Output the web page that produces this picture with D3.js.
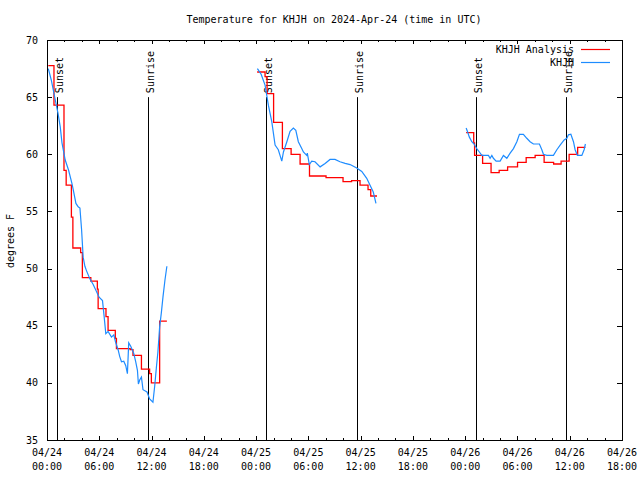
<!DOCTYPE html>
<html><head><meta charset="utf-8">
<script src="https://cdn.jsdelivr.net/npm/d3@7/dist/d3.min.js"></script>
<style>
body{margin:0;background:#fff}
svg text{font-family:"DejaVu Sans Mono","Liberation Mono",monospace;font-size:10px;fill:#000}
</style></head><body>
<svg id="chart" width="640" height="480"></svg>
<script>
// ---- data (hours after 2024-04-24 00:00 UTC, temperature in degrees F) ----
const startUTC = Date.UTC(2024, 3, 24, 0, 0);
const xRangeHours = [0, 66];
const yRange = [35, 70];
const yTickValues = [35, 40, 45, 50, 55, 60, 65, 70];
const sunsetHours = [1.18, 25.17, 49.2];
const sunriseHours = [11.63, 35.63, 59.61];
const titleText = "Temperature for KHJH on 2024-Apr-24 (time in UTC)";
const yLabelText = "degrees F";
const seriesNames = ["KHJH Analysis", "KHJH"];

// analysis (stepped)
const analysisHours1 = [0.15, 0.8, 1.95, 2.2, 2.8, 2.97, 3.86, 4.06, 5.03, 5.78, 5.87, 6.77, 7.01, 7.84, 7.97, 9.55, 9.87, 10.84, 11.78, 11.98, 12.93, 13.76];
const analysisTemps1 = [67.75, 64.3, 58.6, 57.3, 54.5, 51.8, 51.4, 49.2, 48.9, 48.2, 46.5, 45.8, 44.6, 43.9, 43.0, 42.9, 42.4, 41.2, 40.8, 40.0, 45.4, 45.4];
const analysisHours2 = [24.12, 25.03, 25.26, 26.01, 27.02, 28.02, 29.05, 30.13, 32.03, 33.98, 34.96, 35.93, 36.85, 37.16, 37.88];
const analysisTemps2 = [67.2, 66.8, 65.3, 62.8, 60.5, 60.0, 59.15, 58.1, 57.95, 57.6, 57.7, 57.3, 56.9, 56.35, 56.35];
const analysisHours3 = [48.11, 48.98, 49.08, 50.0, 50.97, 51.9, 52.87, 54.01, 55.0, 56.03, 57.06, 58.15, 59.01, 59.93, 60.91, 61.8];
const analysisTemps3 = [61.9, 61.0, 59.9, 59.2, 58.4, 58.6, 58.9, 59.3, 59.7, 59.9, 59.3, 59.15, 59.4, 60.0, 60.6, 60.6];

// observations
const obsHours1 = [0.15, 0.49, 0.95, 1.26, 1.52, 1.72, 2.09, 2.48, 2.86, 3.01, 3.32, 3.58, 3.78, 3.97, 4.15, 4.35, 4.54, 4.92, 5.30, 5.61, 5.98, 6.37, 6.56, 6.75, 7.01, 7.40, 7.67, 7.86, 8.16, 8.35, 8.55, 8.81, 9.04, 9.23, 9.38, 9.61, 9.95, 10.18, 10.38, 10.49, 10.64, 10.84, 11.02, 11.48, 11.78, 12.16, 12.36, 12.55, 12.73, 12.93, 13.12, 13.31, 13.54, 13.76];
const obsTemps1 = [67.5, 66.5, 64.75, 63.6, 62.4, 61.0, 59.5, 58.6, 57.45, 56.9, 55.7, 55.4, 55.3, 53.4, 51.0, 50.2, 49.8, 49.1, 48.6, 48.1, 47.5, 47.2, 45.8, 44.3, 44.5, 44.0, 44.2, 43.6, 42.9, 42.3, 41.85, 41.9, 41.5, 40.8, 43.5, 43.2, 42.6, 41.85, 41.1, 39.9, 40.25, 40.5, 39.4, 39.2, 38.6, 38.3, 39.7, 41.3, 42.7, 44.9, 46.1, 47.5, 49.0, 50.2];
const obsHours2 = [24.15, 24.58, 25.03, 25.41, 25.8, 26.18, 26.55, 26.95, 27.14, 27.53, 27.9, 28.28, 28.56, 28.85, 29.24, 29.43, 29.81, 29.88, 30.11, 30.39, 30.76, 31.35, 31.92, 32.49, 33.06, 33.63, 34.22, 34.79, 35.55, 36.13, 36.7, 37.08, 37.45, 37.76];
const obsTemps2 = [67.5, 67.0, 66.05, 64.3, 62.85, 60.8, 60.4, 59.4, 60.2, 61.1, 62.0, 62.3, 62.1, 61.1, 60.5, 60.2, 59.9, 60.1, 59.1, 59.4, 59.35, 58.9, 59.2, 59.55, 59.55, 59.35, 59.2, 59.1, 58.8, 58.5, 57.9, 57.3, 56.7, 55.7];
const obsHours3 = [48.11, 48.26, 48.48, 48.76, 49.02, 49.33, 49.63, 49.91, 50.67, 50.86, 51.06, 51.24, 51.55, 52.01, 52.39, 52.78, 53.16, 53.54, 53.93, 54.23, 54.68, 55.07, 55.45, 55.83, 56.52, 56.8, 56.98, 57.37, 58.13, 58.52, 58.9, 59.36, 59.67, 59.85, 60.13, 60.43, 60.62, 60.88, 61.39, 61.65, 61.8];
const obsTemps3 = [62.3, 62.0, 61.5, 61.1, 60.9, 60.5, 60.2, 59.9, 59.9, 59.65, 59.9, 59.65, 59.4, 59.4, 59.9, 59.65, 60.1, 60.5, 61.1, 61.75, 61.75, 61.4, 61.1, 60.9, 60.9, 60.4, 60.0, 59.9, 59.9, 60.4, 60.8, 61.25, 61.4, 61.7, 61.75, 61.1, 60.4, 59.9, 59.9, 60.4, 60.9];

// ---- drawing ----
const W = 640, H = 480;
const plot = {left: 47, right: 622, top: 40, bottom: 440};
const toDate = h => new Date(startUTC + h * 3600e3);

const svg = d3.select("#chart");
svg.append("rect").attr("width", W).attr("height", H).attr("fill", "#fff");

const x = d3.scaleUtc().domain(xRangeHours.map(toDate)).range([plot.left, plot.right]);
const y = d3.scaleLinear().domain(yRange).range([plot.bottom, plot.top]);

// title
svg.append("text").attr("x", 334).attr("y", 23).attr("text-anchor", "middle").text(titleText);
// y label
svg.append("text").attr("transform", "translate(14,241) rotate(-90)").attr("text-anchor", "middle").text(yLabelText);

// sunset / sunrise lines
const sunEvents = sunsetHours.map(h => ({h, label: "Sunset"})).concat(sunriseHours.map(h => ({h, label: "Sunrise"})));
const sunG = svg.append("g");
sunEvents.forEach(ev => {
  const sx = Math.round(x(toDate(ev.h))) + 0.5;
  sunG.append("line").attr("x1", sx).attr("x2", sx).attr("y1", y(35)).attr("y2", y(65))
    .attr("stroke", "#000").attr("stroke-width", 1);
  sunG.append("text").attr("transform", `translate(${sx + 5.5},${y(65) - 4}) rotate(-90)`)
    .attr("text-anchor", "start").text(ev.label);
});

// axes ticks
const majorX = d3.utcHour.every(6).range(toDate(0), toDate(66.01));
const minorX = d3.utcHour.every(2).range(toDate(0), toDate(66.01)).filter(d => d.getUTCHours() % 6 !== 0);
const axG = svg.append("g").attr("shape-rendering", "crispEdges");
axG.append("g").attr("transform", `translate(0,${plot.bottom})`)
  .call(d3.axisBottom(x).tickValues(majorX).tickSize(-4).tickFormat(""))
  .call(g => g.select(".domain").remove());
axG.append("g").attr("transform", `translate(0,${plot.bottom})`)
  .call(d3.axisBottom(x).tickValues(minorX).tickSize(-2).tickFormat(""))
  .call(g => g.select(".domain").remove());
axG.append("g").attr("transform", `translate(0,${plot.top})`)
  .call(d3.axisTop(x).tickValues(majorX).tickSize(-4).tickFormat(""))
  .call(g => g.select(".domain").remove());
axG.append("g").attr("transform", `translate(0,${plot.top})`)
  .call(d3.axisTop(x).tickValues(minorX).tickSize(-2).tickFormat(""))
  .call(g => g.select(".domain").remove());
axG.append("g").attr("transform", `translate(${plot.left},0)`)
  .call(d3.axisLeft(y).tickValues(yTickValues).tickSize(-5).tickFormat(""))
  .call(g => g.select(".domain").remove());
axG.append("g").attr("transform", `translate(${plot.right},0)`)
  .call(d3.axisRight(y).tickValues(yTickValues).tickSize(-5).tickFormat(""))
  .call(g => g.select(".domain").remove());

// x tick labels
const fmtDay = d3.utcFormat("%m/%d"), fmtTime = d3.utcFormat("%H:%M");
majorX.forEach(d => {
  const t = svg.append("text").attr("text-anchor", "middle");
  t.append("tspan").attr("x", x(d)).attr("y", 456).text(fmtDay(d));
  t.append("tspan").attr("x", x(d)).attr("y", 470).text(fmtTime(d));
});
// y tick labels
yTickValues.forEach(v => {
  svg.append("text").attr("x", 38).attr("y", y(v) + 3.5).attr("text-anchor", "end").text(v);
});

// series
const stepLine = d3.line().x(d => x(toDate(d[0]))).y(d => y(d[1])).curve(d3.curveStepAfter);
const plainLine = d3.line().x(d => x(toDate(d[0]))).y(d => y(d[1]));
const zip = (a, b) => a.map((v, i) => [v, b[i]]);
const analysisSegs = [zip(analysisHours1, analysisTemps1), zip(analysisHours2, analysisTemps2), zip(analysisHours3, analysisTemps3)];
const obsSegs = [zip(obsHours1, obsTemps1), zip(obsHours2, obsTemps2), zip(obsHours3, obsTemps3)];
const redColor = "#ff0000", blueColor = "#1e8cff";
analysisSegs.forEach(s => svg.append("path").attr("d", stepLine(s)).attr("fill", "none").attr("stroke", redColor).attr("stroke-width", 1.3));
obsSegs.forEach(s => svg.append("path").attr("d", plainLine(s)).attr("fill", "none").attr("stroke", blueColor).attr("stroke-width", 1.2));

// legend
const legend = [{name: seriesNames[0], color: redColor, y: 49}, {name: seriesNames[1], color: blueColor, y: 62}];
legend.forEach(l => {
  svg.append("text").attr("x", 574).attr("y", l.y + 3.5).attr("text-anchor", "end").text(l.name);
  svg.append("line").attr("x1", 581).attr("x2", 610).attr("y1", l.y + 0.5).attr("y2", l.y + 0.5)
    .attr("stroke", l.color).attr("stroke-width", 1.2);
});

// frame
svg.append("rect").attr("x", plot.left + 0.5).attr("y", plot.top + 0.5)
  .attr("width", plot.right - plot.left).attr("height", plot.bottom - plot.top)
  .attr("fill", "none").attr("stroke", "#000").attr("stroke-width", 1).attr("shape-rendering", "crispEdges");
</script>
</body></html>
